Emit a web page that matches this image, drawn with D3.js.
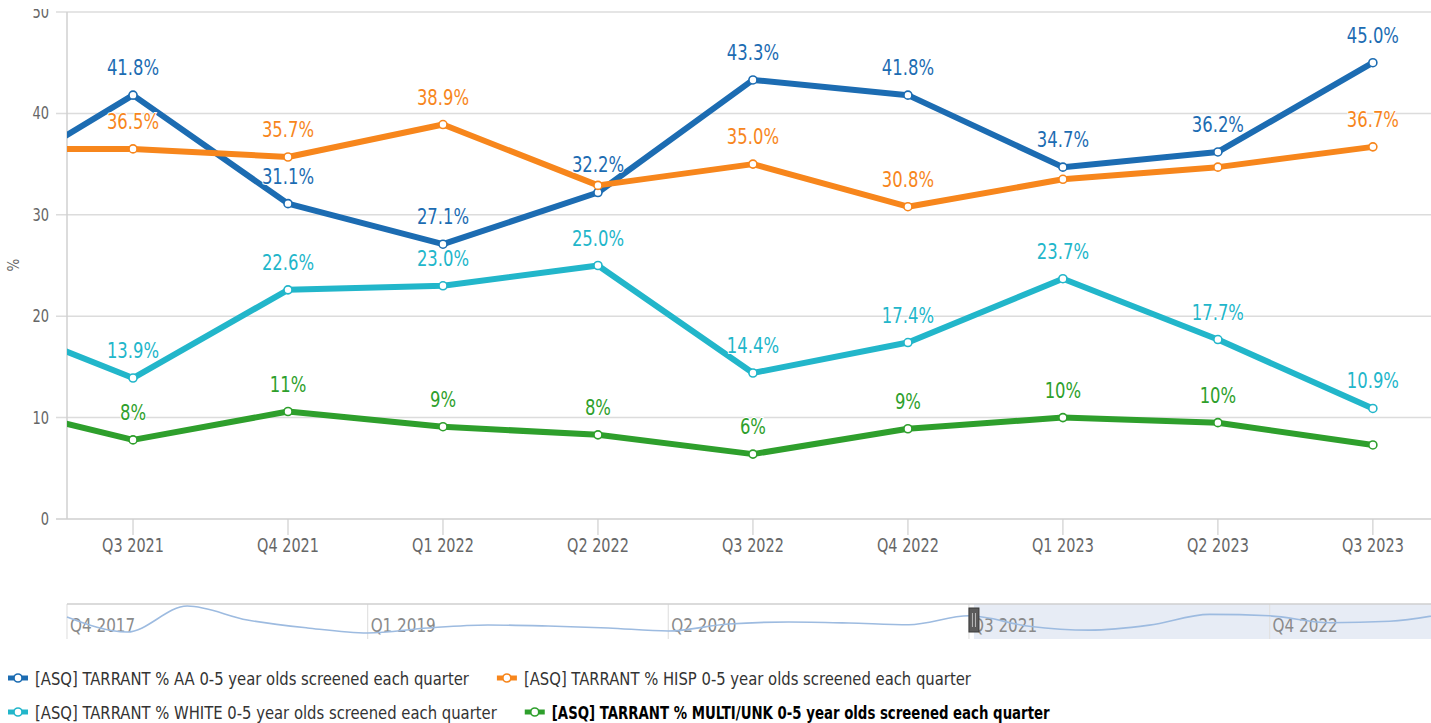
<!DOCTYPE html>
<html>
<head>
<meta charset="utf-8">
<script src="https://cdn.jsdelivr.net/npm/d3@7"></script>
<style>
  body { margin: 0; background: #fff; }
  svg { display: block; font-family: "Liberation Sans Narrow", "DejaVu Sans Condensed", sans-serif; }
</style>
</head>
<body>
<svg id="chart"></svg>
<script>
// quarters in the main plot (Q2 2021 is only partly visible at the left edge)
const quarters = ["Q2 2021", "Q3 2021", "Q4 2021", "Q1 2022", "Q2 2022", "Q3 2022", "Q4 2022", "Q1 2023", "Q2 2023", "Q3 2023"];
const aaValues    = [32.6, 41.8, 31.1, 27.1, 32.2, 43.3, 41.8, 34.7, 36.2, 45.0];
const hispValues  = [36.5, 36.5, 35.7, 38.9, 32.9, 35.0, 30.8, 33.5, 34.7, 36.7];
const whiteValues = [20.0, 13.9, 22.6, 23.0, 25.0, 14.4, 17.4, 23.7, 17.7, 10.9];
const multiValues = [11.5, 7.8, 10.6, 9.1, 8.3, 6.4, 8.9, 10.0, 9.5, 7.3];
const yTicks = [0, 10, 20, 30, 40, 50];

// data labels that the chart hides because they collide
const hispHidden = ["Q2 2022", "Q1 2023", "Q2 2023"];
const multiHidden = ["Q3 2023"];

// navigator: earlier AA history before the main range
const histQuarters = ["Q4 2017", "Q1 2018", "Q2 2018", "Q3 2018", "Q4 2018", "Q1 2019", "Q2 2019", "Q3 2019", "Q4 2019", "Q1 2020", "Q2 2020", "Q3 2020", "Q4 2020", "Q1 2021"];
const histAA = [40.6, 25.1, 51.9, 37.5, 29.3, 24.1, 29.3, 32.4, 31.3, 29.3, 26.2, 33.4, 35.4, 34.4];
const navTicks = ["Q4 2017", "Q1 2019", "Q2 2020", "Q3 2021", "Q4 2022"];

const seriesNames = [
  "[ASQ] TARRANT % AA 0-5 year olds screened each quarter",
  "[ASQ] TARRANT % HISP 0-5 year olds screened each quarter",
  "[ASQ] TARRANT % WHITE 0-5 year olds screened each quarter",
  "[ASQ] TARRANT % MULTI/UNK 0-5 year olds screened each quarter"
];

const W = 1431, H = 723;
const plot = {left: 67, right: 1431, top: 12, bottom: 519};

const series = [
  {name: seriesNames[0], values: aaValues, color: "#1c6cb2", hidden: [], fmt: d3.format(".1f")},
  {name: seriesNames[1], values: hispValues, color: "#f7861c", hidden: hispHidden, fmt: d3.format(".1f")},
  {name: seriesNames[2], values: whiteValues, color: "#22b6ca", hidden: [], fmt: d3.format(".1f")},
  {name: seriesNames[3], values: multiValues, color: "#2e9f2c", hidden: multiHidden, fmt: d3.format(".0f"), bold: true}
];

// the original font is a narrow one, squeeze the fallback horizontally
function squeeze(sel, k) {
  sel.each(function () {
    const len = this.getComputedTextLength();
    d3.select(this).attr("textLength", len * k).attr("lengthAdjust", "spacingAndGlyphs");
  });
}

const svg = d3.select("#chart").attr("width", W).attr("height", H);

// x in quarter index; the view starts a bit before Q3 2021
const x = d3.scaleLinear().domain([0.574, 9.375]).range([plot.left, plot.right]);
const y = d3.scaleLinear().domain([0, 50]).range([plot.bottom, plot.top]);

svg.append("defs").append("clipPath").attr("id", "plotclip")
  .append("rect").attr("x", plot.left).attr("y", 0)
  .attr("width", plot.right - plot.left).attr("height", plot.bottom + 10);

//grid lines + y labels
const yAxis = svg.append("g");
yAxis.selectAll("line").data(yTicks).enter().append("line")
  .attr("x1", 56).attr("x2", plot.right)
  .attr("y1", d => y(d)).attr("y2", d => y(d))
  .attr("stroke", d => d === 0 ? "#cfcfcf" : "#dcdcdc").attr("stroke-width", 1.5);
yAxis.selectAll("text").data(yTicks).enter().append("text")
  .attr("x", 49).attr("y", d => y(d) + 6)
  .attr("text-anchor", "end").attr("font-size", 17).attr("fill", "#666")
  .text(d => d)
  .call(squeeze, 0.85);

svg.append("line")
  .attr("x1", plot.left).attr("x2", plot.left)
  .attr("y1", plot.top).attr("y2", plot.bottom)
  .attr("stroke", "#d0d0d0").attr("stroke-width", 1.5);

svg.append("text")
  .attr("transform", "translate(19,265) rotate(-90)")
  .attr("text-anchor", "middle").attr("font-size", 15).attr("fill", "#666")
  .text("%");

//x ticks and labels
const shown = quarters.map((q, i) => i).filter(i => x(i) >= plot.left && x(i) <= plot.right);
const xAxis = svg.append("g");
xAxis.selectAll("line").data(shown).enter().append("line")
  .attr("x1", d => x(d)).attr("x2", d => x(d))
  .attr("y1", plot.bottom).attr("y2", plot.bottom + 16)
  .attr("stroke", "#cfcfcf").attr("stroke-width", 1.2);
xAxis.selectAll("text").data(shown).enter().append("text")
  .attr("x", d => x(d)).attr("y", 552)
  .attr("text-anchor", "middle").attr("font-size", 19).attr("fill", "#666")
  .text(d => quarters[d])
  .call(squeeze, 0.845);

//lines
const line = d3.line().x((d, i) => x(i)).y(d => y(d));
const plotG = svg.append("g").attr("clip-path", "url(#plotclip)");

series.forEach(s => {
  const g = plotG.append("g");
  g.append("path").datum(s.values)
    .attr("d", line).attr("fill", "none")
    .attr("stroke", s.color).attr("stroke-width", 6)
    .attr("stroke-linejoin", "round");
  g.selectAll("circle").data(s.values).enter().append("circle")
    .attr("cx", (d, i) => x(i)).attr("cy", d => y(d)).attr("r", 4)
    .attr("fill", "#fff").attr("stroke", s.color).attr("stroke-width", 1.6);
});

//data labels on top, only for points inside the view
const labelG = svg.append("g");
series.forEach(s => {
  labelG.append("g").selectAll("text")
    .data(s.values.map((v, i) => ({v, i}))
      .filter(d => !s.hidden.includes(quarters[d.i]) && shown.includes(d.i)))
    .enter().append("text")
    .attr("x", d => x(d.i)).attr("y", d => y(d.v) - 20)
    .attr("text-anchor", "middle").attr("font-size", 22)
    .attr("fill", s.color)
    .attr("stroke", "#fff").attr("stroke-width", 2).attr("paint-order", "stroke")
    .text(d => s.fmt(d.v) + "%")
    .call(squeeze, 0.83);
});

//navigator
const navData = histAA.concat(aaValues);
const navQuarters = histQuarters.concat(quarters);
const nav = {top: 604, bottom: 637};
const nx = d3.scaleLinear().domain([0, navData.length - 1]).range([plot.left, plot.left + 60.13 * (navData.length - 1)]);
const ny = d3.scaleLinear().domain([20, 55]).range([nav.bottom, nav.top - 1]);
const selStart = nx(navQuarters.indexOf("Q3 2021")) + 5;

const navG = svg.append("g");
navG.append("rect")
  .attr("x", selStart).attr("y", nav.top)
  .attr("width", W - selStart).attr("height", nav.bottom - nav.top + 2)
  .attr("fill", "#e4eaf4").attr("opacity", 0.9);
navG.selectAll("line.grid").data(navTicks).enter().append("line")
  .attr("x1", d => nx(navQuarters.indexOf(d))).attr("x2", d => nx(navQuarters.indexOf(d)))
  .attr("y1", nav.top).attr("y2", nav.bottom + 2)
  .attr("stroke", "#e2e2e2").attr("stroke-width", 1.2);
navG.selectAll("text").data(navTicks).enter().append("text")
  .attr("x", d => nx(navQuarters.indexOf(d)) + 3).attr("y", 632)
  .attr("font-size", 20).attr("fill", "#8a8a8a")
  .text(d => d)
  .call(squeeze, 0.845);
navG.append("path").datum(navData)
  .attr("d", d3.line().x((d, i) => nx(i)).y(d => ny(d)).curve(d3.curveMonotoneX))
  .attr("fill", "none").attr("stroke", "#9dbbe0").attr("stroke-width", 1.6);
navG.append("line")
  .attr("x1", plot.left).attr("x2", W).attr("y1", nav.top).attr("y2", nav.top)
  .attr("stroke", "#cfcfcf").attr("stroke-width", 1.5);

//handle
const handle = navG.append("g").attr("transform", "translate(" + selStart + ",0)");
handle.append("rect")
  .attr("x", -5).attr("y", 608).attr("width", 10).attr("height", 24)
  .attr("fill", "#5b5b5b").attr("stroke", "#3a3a3a");
handle.selectAll("line").data([-1.5, 1.5]).enter().append("line")
  .attr("x1", d => d).attr("x2", d => d).attr("y1", 613).attr("y2", 627)
  .attr("stroke", "#bbb").attr("stroke-width", 1);

//legend, flowing like highcharts does
const legend = svg.append("g");
let lx = 8, ly = 678;
series.forEach(s => {
  const item = legend.append("g");
  item.append("line")
    .attr("x1", 0).attr("x2", 20).attr("y1", 0).attr("y2", 0)
    .attr("stroke", s.color).attr("stroke-width", 5);
  item.append("circle").attr("cx", 10).attr("cy", 0).attr("r", 4)
    .attr("fill", "#fff").attr("stroke", s.color).attr("stroke-width", 1.6);
  const t = item.append("text")
    .attr("x", 27).attr("y", 6.5)
    .attr("font-size", 18.5)
    .attr("fill", s.bold ? "#000" : "#333")
    .attr("font-weight", s.bold ? "bold" : "normal")
    .text(s.name);
  const k = s.bold ? 0.80 : 0.89;
  const len = t.node().getComputedTextLength() * k;
  t.attr("textLength", len).attr("lengthAdjust", "spacingAndGlyphs");
  const w = 27 + len + 28;
  if (lx + w > W && lx > 8) { lx = 8; ly += 34; }
  item.attr("transform", "translate(" + lx + "," + ly + ")");
  lx += w;
});

// page top is cut off in the original
svg.append("rect").attr("x", 0).attr("y", 0).attr("width", W).attr("height", 9).attr("fill", "#fff");
</script>
</body>
</html>
